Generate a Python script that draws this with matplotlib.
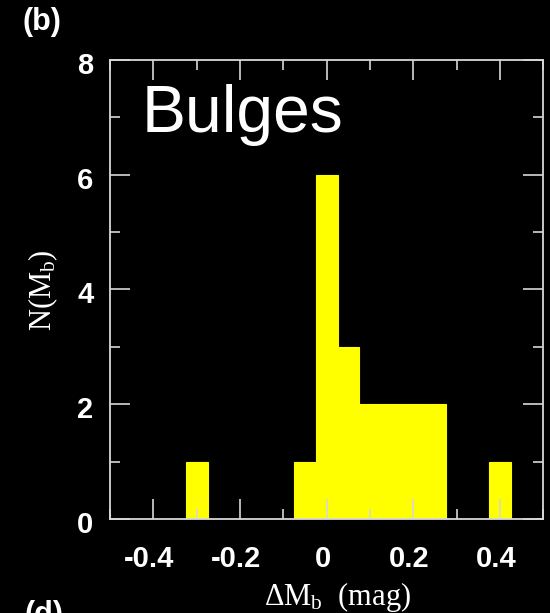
import matplotlib
matplotlib.use('Agg')
import matplotlib.pyplot as plt
import matplotlib.transforms as mtransforms
from matplotlib.ticker import MultipleLocator

# histogram of bulge magnitude offsets (bin centres, 0.05 mag wide)
bin_centers = [-0.30, -0.05, 0.00, 0.05, 0.10, 0.15, 0.20, 0.25, 0.40]
counts = [1, 1, 6, 3, 2, 2, 2, 2, 1]
bin_width = 0.05

x_ticks = [-0.4, -0.2, 0.0, 0.2, 0.4]
x_tick_labels = ['-0.4', '-0.2', '0', '0.2', '0.4']
y_ticks = [0, 2, 4, 6, 8]

plt.rcParams['mathtext.fontset'] = 'custom'
plt.rcParams['mathtext.rm'] = 'Liberation Serif'
plt.rcParams['mathtext.it'] = 'Liberation Serif'

fig = plt.figure(figsize=(5.5, 6.13), dpi=100, facecolor='black')
ax = fig.add_axes([0.2, 0.1533, 0.788, 0.749])
ax.set_facecolor('black')

ax.bar(bin_centers, counts, width=bin_width, color='#ffff00',
       edgecolor='#ffff00', linewidth=0.8)

ax.set_xlim(-0.5, 0.5)
ax.set_ylim(0, 8)
ax.set_xticks(x_ticks)
ax.set_xticklabels(x_tick_labels)
ax.set_yticks(y_ticks)
ax.xaxis.set_minor_locator(MultipleLocator(0.1))
ax.yaxis.set_minor_locator(MultipleLocator(1))

axis_col = '#d8d8d8'
for s in ax.spines.values():
    s.set_color(axis_col)
    s.set_linewidth(1.3)
ax.tick_params(which='both', direction='in', top=True, right=True,
               color=axis_col, width=1.2)
ax.tick_params(which='major', length=14.5)
ax.tick_params(which='minor', length=7)
ax.tick_params(axis='y', which='major', pad=12)
ax.tick_params(axis='x', which='major', pad=19)

# nudge the tick labels a few pixels, as in the original plotting package
dx = mtransforms.ScaledTranslation(-4 / 100, 0, fig.dpi_scale_trans)
dy = mtransforms.ScaledTranslation(0, -3 / 100, fig.dpi_scale_trans)
for lab in ax.get_xticklabels():
    lab.set_transform(lab.get_transform() + dx)
for lab in ax.get_yticklabels():
    lab.set_transform(lab.get_transform() + dy)
for lab in ax.get_xticklabels() + ax.get_yticklabels():
    lab.set_color('white')
    lab.set_fontsize(21)
    lab.set_fontweight('bold')
    lab.set_family('Liberation Sans')

fig.text(142 / 550, 1 - 132 / 613, 'Bulges', color='white', fontsize=47.5,
         family='Liberation Sans', ha='left', va='baseline')
fig.text(23 / 550, 1 - 30 / 613, '(b)', color='white', fontsize=22,
         fontweight='bold', family='Liberation Sans', ha='left', va='baseline')
fig.text(24 / 550, 1 - 623 / 613, '(d)', color='white', fontsize=22,
         fontweight='bold', family='Liberation Sans', ha='left', va='baseline')

fig.text(338 / 550, 1 - 605 / 613, r'ΔM$_\mathrm{b}$  (mag)', color='white',
         fontsize=22, family='Liberation Serif', ha='center', va='baseline')
fig.text(26 / 550, 1 - 290 / 613, r'N(M$_\mathrm{b}$)', color='white',
         fontsize=22, family='Liberation Serif', rotation=90,
         ha='left', va='center')

fig.savefig('out.png', dpi=100, facecolor='black')
